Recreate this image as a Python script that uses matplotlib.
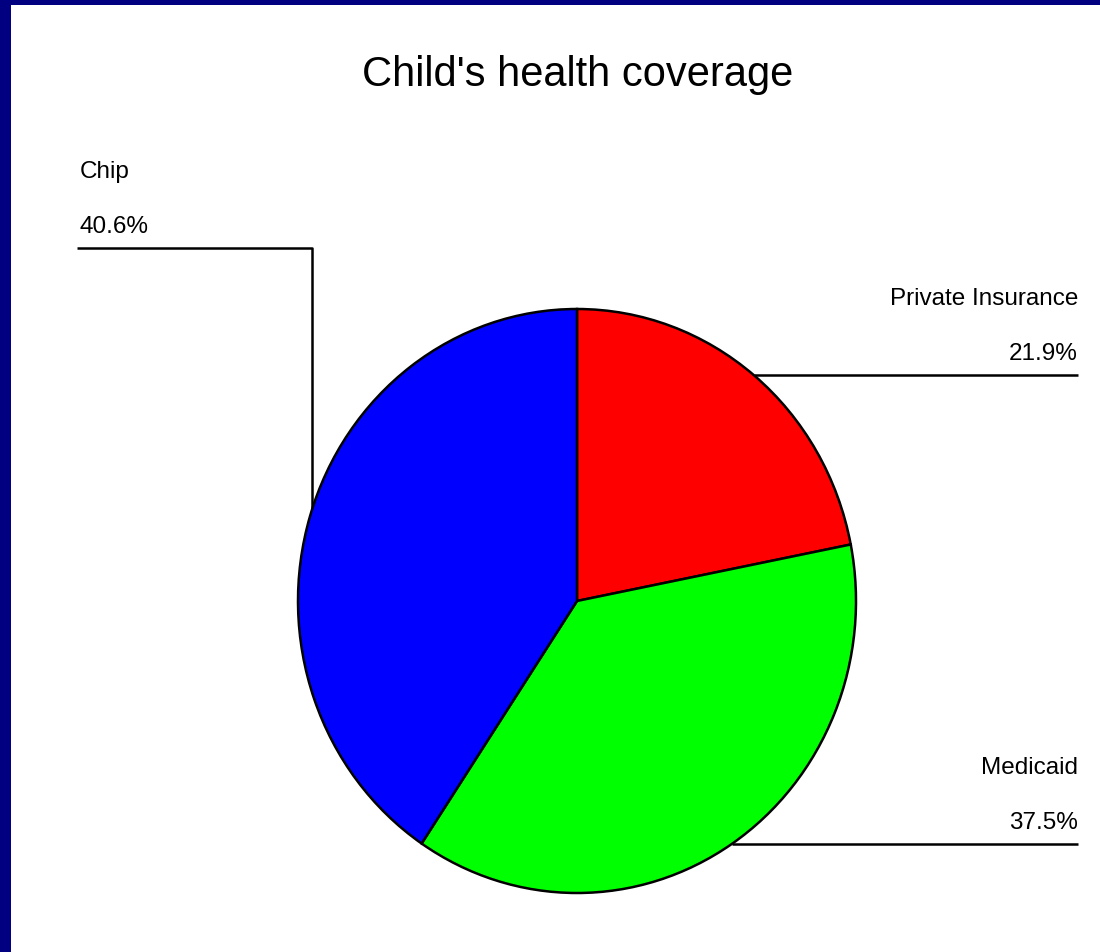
import numpy as np
import matplotlib.pyplot as plt
from matplotlib.patches import Rectangle

plt.rcParams["font.family"] = ["Liberation Sans", "DejaVu Sans"]

# data, clockwise from 12 o'clock
categories = ["Private Insurance", "Medicaid", "Chip"]
shares = [21.9, 37.5, 40.6]
colors = ["#ff0000", "#00ff00", "#0000ff"]
title = "Child's health coverage"

W, H = 1100, 952
fig = plt.figure(figsize=(W / 100, H / 100), dpi=100)
fig.patch.set_facecolor("#000080")

# overlay axes in pixel units (y down) for background, leaders and labels
over = fig.add_axes([0, 0, 1, 1])
over.set_xlim(0, W)
over.set_ylim(H, 0)
over.axis("off")
over.add_patch(Rectangle((11, 5), W - 11, H - 5, facecolor="white", edgecolor="none"))

# pie axes, stretched a little vertically like the original
pie_box = (298, 309, 856, 893)  # left, top, right, bottom in pixels
ax = fig.add_axes([
    pie_box[0] / W,
    (H - pie_box[3]) / H,
    (pie_box[2] - pie_box[0]) / W,
    (pie_box[3] - pie_box[1]) / H,
])
wedges, _ = ax.pie(
    shares,
    colors=colors,
    startangle=90,
    counterclock=False,
    wedgeprops=dict(edgecolor="black", linewidth=1.8),
)
ax.set_aspect("auto")
ax.set_xlim(-1, 1)
ax.set_ylim(-1, 1)
ax.axis("off")


def anchor(w):
    # midpoint of the wedge arc, converted to overlay pixel coords
    ang = np.radians((w.theta1 + w.theta2) / 2)
    disp = ax.transData.transform((np.cos(ang), np.sin(ang)))
    return over.transData.inverted().transform(disp)


fs = 17.5
line_kw = dict(color="black", linewidth=1.8, solid_capstyle="butt")


def label(x, y, name, share, ha):
    over.text(x, y - 15, f"{share:.1f}%", ha=ha, va="baseline", fontsize=fs)
    over.text(x, y - 70, name, ha=ha, va="baseline", fontsize=fs)


# Private Insurance
x0, y0 = anchor(wedges[0])
over.plot([x0, 1078], [y0, y0], **line_kw)
label(1078, y0, categories[0], shares[0], "right")

# Medicaid
x1, y1 = anchor(wedges[1])
over.plot([x1, 1078], [y1, y1], **line_kw)
label(1078, y1, categories[1], shares[1], "right")

# Chip
x2, y2 = anchor(wedges[2])
over.plot([x2, 312, 312, 77], [y2, y2, 248, 248], **line_kw)
label(80, 248, categories[2], shares[2], "left")

over.text(578, 86, title, ha="center", va="baseline", fontsize=30)

fig.savefig("out.png", dpi=100, facecolor=fig.get_facecolor())
